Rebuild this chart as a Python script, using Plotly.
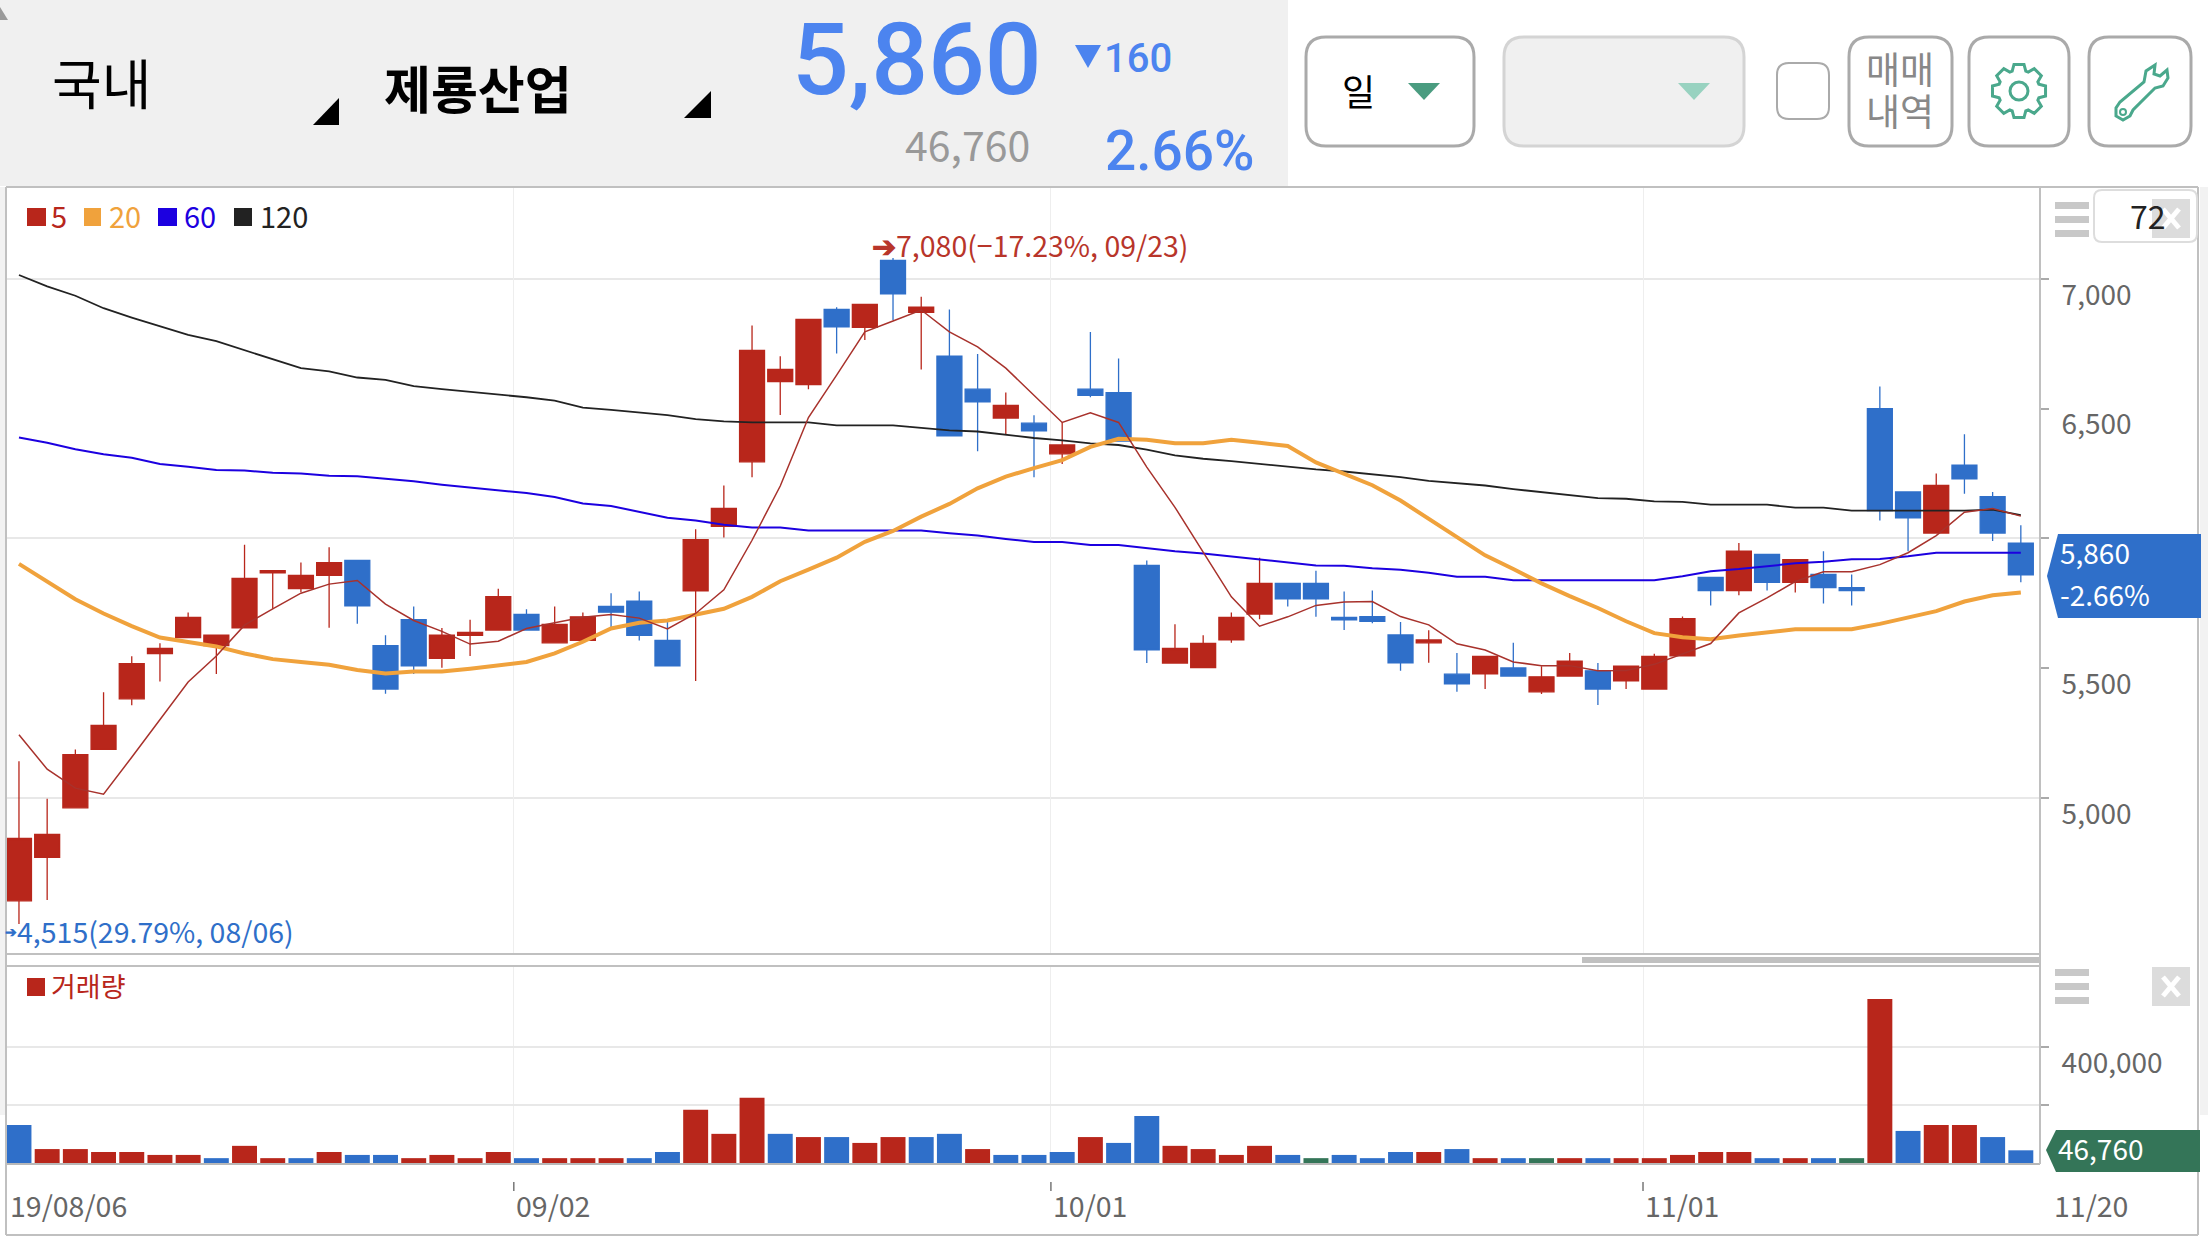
import math
import plotly.graph_objects as go

W = 2208
H = 1242

RED = '#b8261b'
BLUE = '#2f6fc9'
GREEN = '#347558'
GREY_TXT = '#666666'
BORDER = '#c0c0c0'
GRID = '#e8e8e8'
TEAL = '#4aa88c'
KR = 'Noto Sans CJK KR'

# 일봉 데이터
opens = [4604, 4771, 4962, 5187, 5382, 5556, 5618, 5587, 5656, 5867, 5807, 5858,
         5915, 5587, 5687, 5538, 5627, 5647, 5707, 5598, 5607, 5738, 5758, 5607,
         5798, 6047, 6295, 6604, 6593, 6882, 6813, 7071, 6871, 6702, 6575, 6464,
         6444, 6326, 6575, 6562, 5896, 5520, 5502, 5609, 5709, 5827, 5827, 5696,
         5699, 5628, 5598, 5477, 5478, 5501, 5409, 5470, 5490, 5451, 5420, 5548,
         5850, 5799, 5939, 5831, 5861, 5810, 6500, 6179, 6021, 6282, 6161, 5982]
highs = [5142, 4997, 5187, 5407, 5546, 5596, 5715, 5627, 5976, 5876, 5907, 5966,
         5915, 5627, 5738, 5655, 5687, 5806, 5727, 5738, 5715, 5789, 5796, 5687,
         6035, 6204, 6820, 6702, 6844, 6891, 6902, 7080, 6931, 6882, 6711, 6562,
         6475, 6447, 6795, 6693, 5915, 5669, 5627, 5715, 5926, 5827, 5876, 5796,
         5799, 5678, 5646, 5559, 5546, 5598, 5508, 5559, 5520, 5508, 5556, 5699,
         5850, 5982, 5939, 5918, 5951, 5861, 6585, 6179, 6250, 6401, 6179, 6051]
lows = [4515, 4607, 4962, 5187, 5357, 5449, 5618, 5478, 5656, 5729, 5793, 5656,
        5671, 5402, 5478, 5502, 5547, 5647, 5647, 5598, 5607, 5656, 5607, 5509,
        5451, 6004, 6236, 6476, 6575, 6713, 6765, 6842, 6651, 6395, 6336, 6402,
        6236, 6287, 6544, 6375, 5520, 5520, 5502, 5598, 5689, 5738, 5698, 5647,
        5673, 5490, 5521, 5409, 5420, 5470, 5401, 5470, 5358, 5420, 5420, 5548,
        5742, 5781, 5799, 5792, 5749, 5742, 6069, 5951, 6021, 6172, 5990, 5831]
closes = [4844, 4860, 5167, 5280, 5518, 5576, 5696, 5627, 5846, 5876, 5858, 5907,
          5740, 5420, 5509, 5627, 5638, 5776, 5647, 5669, 5698, 5716, 5627, 5509,
          5995, 6116, 6724, 6651, 6844, 6815, 6902, 6942, 6891, 6395, 6526, 6513,
          6415, 6360, 6551, 6375, 5571, 5576, 5596, 5696, 5827, 5767, 5767, 5686,
          5681, 5521, 5609, 5440, 5546, 5470, 5467, 5527, 5420, 5508, 5546, 5691,
          5799, 5951, 5831, 5918, 5811, 5799, 6107, 6079, 6204, 6230, 6021, 5860]

ma5 = [5244, 5111, 5038, 5015, 5157, 5302, 5447, 5547, 5666, 5729, 5789, 5824,
       5838, 5747, 5684, 5642, 5593, 5604, 5653, 5675, 5696, 5707, 5693, 5651,
       5711, 5802, 5993, 6202, 6466, 6629, 6796, 6838, 6880, 6796, 6738, 6656,
       6553, 6447, 6484, 6447, 6275, 6120, 5947, 5775, 5662, 5698, 5742, 5755,
       5757, 5699, 5667, 5594, 5570, 5524, 5510, 5510, 5490, 5491, 5515, 5556,
       5595, 5713, 5771, 5834, 5872, 5872, 5899, 5945, 6011, 6101, 6115, 6086]
ma20 = [5902, 5833, 5766, 5711, 5662, 5618, 5602, 5584, 5557, 5535, 5524, 5513,
        5493, 5480, 5487, 5487, 5498, 5511, 5524, 5557, 5602, 5653, 5675, 5684,
        5706, 5729, 5775, 5835, 5880, 5926, 5987, 6029, 6084, 6133, 6193, 6238,
        6271, 6302, 6353, 6384, 6380, 6367, 6367, 6380, 6369, 6356, 6293, 6250,
        6205, 6146, 6076, 6007, 5935, 5882, 5827, 5778, 5732, 5681, 5635, 5619,
        5612, 5626, 5639, 5650, 5650, 5650, 5671, 5695, 5720, 5757, 5781, 5792]
ma60 = [6389, 6369, 6344, 6324, 6311, 6287, 6276, 6264, 6262, 6253, 6250, 6242,
        6240, 6231, 6220, 6207, 6196, 6186, 6175, 6160, 6135, 6125, 6102, 6080,
        6069, 6053, 6042, 6042, 6031, 6031, 6031, 6031, 6031, 6020, 6011, 5998,
        5986, 5986, 5975, 5975, 5962, 5951, 5942, 5931, 5920, 5907, 5896, 5895,
        5885, 5879, 5868, 5852, 5852, 5839, 5839, 5839, 5839, 5839, 5839, 5854,
        5874, 5882, 5893, 5904, 5910, 5920, 5921, 5931, 5945, 5945, 5945, 5945]
ma120 = [7015, 6971, 6935, 6887, 6851, 6818, 6784, 6760, 6725, 6693, 6656, 6644,
         6620, 6611, 6587, 6575, 6565, 6555, 6544, 6531, 6504, 6495, 6484, 6475,
         6460, 6451, 6447, 6447, 6447, 6436, 6436, 6436, 6426, 6416, 6412, 6400,
         6387, 6378, 6366, 6360, 6342, 6320, 6307, 6298, 6287, 6276, 6266, 6258,
         6248, 6236, 6222, 6212, 6204, 6190, 6178, 6166, 6155, 6153, 6143, 6141,
         6130, 6130, 6130, 6119, 6119, 6107, 6107, 6107, 6107, 6107, 6111, 6090]

volumes = [133000, 51000, 51000, 41000, 41000, 31000, 31000, 20000, 62000, 20000,
           20000, 41000, 31000, 31000, 20000, 31000, 20000, 41000, 20000, 20000,
           20000, 20000, 20000, 41000, 185000, 103000, 226000, 103000, 92000, 92000,
           72000, 92000, 92000, 103000, 51000, 31000, 31000, 41000, 92000, 72000,
           164000, 62000, 51000, 31000, 62000, 31000, 20000, 31000, 20000, 41000,
           41000, 51000, 20000, 20000, 20000, 20000, 20000, 20000, 20000, 31000,
           41000, 41000, 20000, 20000, 20000, 20000, 564000, 113000, 133000, 133000,
           92000, 46760]
vol_dirs = ['b', 'r', 'r', 'r', 'r', 'r', 'r', 'b', 'r', 'r', 'b', 'r',
            'b', 'b', 'r', 'r', 'r', 'r', 'b', 'r', 'r', 'r', 'b', 'b',
            'r', 'r', 'r', 'b', 'r', 'b', 'r', 'r', 'b', 'b', 'r', 'b',
            'b', 'b', 'r', 'b', 'b', 'r', 'r', 'r', 'r', 'b', 'g', 'b',
            'b', 'b', 'r', 'b', 'r', 'b', 'g', 'r', 'b', 'r', 'r', 'r',
            'r', 'r', 'b', 'r', 'b', 'g', 'r', 'b', 'r', 'r', 'b', 'b']

x_idx = list(range(len(closes)))
month_idx = [17.55, 36.6, 57.6]
month_labels = ['09/02', '10/01', '11/01']
price_ticks = [5000, 5500, 6000, 6500, 7000]
price_ticktext = ['5,000', '5,500', '', '6,500', '7,000']
price_grid = [5000, 6000, 7000]
vol_colors = {'r': RED, 'b': BLUE, 'g': GREEN}


def px(x):
    return x / W


def py(y):
    return 1 - y / H


def rect(x0, y0, x1, y1, fill, line=None, lw=0):
    return dict(type='rect', xref='paper', yref='paper', x0=px(x0), x1=px(x1), y0=py(y0), y1=py(y1),
                fillcolor=fill, line=dict(color=line or fill, width=lw))


def hline(x0, x1, y, color=BORDER, lw=2):
    return dict(type='line', xref='paper', yref='paper', x0=px(x0), x1=px(x1), y0=py(y), y1=py(y),
                line=dict(color=color, width=lw))


def vline(x, y0, y1, color=BORDER, lw=2):
    return dict(type='line', xref='paper', yref='paper', x0=px(x), x1=px(x), y0=py(y0), y1=py(y1),
                line=dict(color=color, width=lw))


def poly(points, fill='rgba(0,0,0,0)', line=None, lw=0):
    d = 'M ' + ' L '.join(f'{px(a):.5f} {py(b):.5f}' for a, b in points) + ' Z'
    return dict(type='path', xref='paper', yref='paper', path=d, fillcolor=fill,
                line=dict(color=line or fill, width=lw))


def round_box(x0, y0, x1, y1, r, fill, line, lw=3):
    d = (f'M {px(x0 + r):.5f} {py(y0):.5f} L {px(x1 - r):.5f} {py(y0):.5f} '
         f'Q {px(x1):.5f} {py(y0):.5f} {px(x1):.5f} {py(y0 + r):.5f} '
         f'L {px(x1):.5f} {py(y1 - r):.5f} Q {px(x1):.5f} {py(y1):.5f} {px(x1 - r):.5f} {py(y1):.5f} '
         f'L {px(x0 + r):.5f} {py(y1):.5f} Q {px(x0):.5f} {py(y1):.5f} {px(x0):.5f} {py(y1 - r):.5f} '
         f'L {px(x0):.5f} {py(y0 + r):.5f} Q {px(x0):.5f} {py(y0):.5f} {px(x0 + r):.5f} {py(y0):.5f} Z')
    return dict(type='path', xref='paper', yref='paper', path=d, fillcolor=fill,
                line=dict(color=line, width=lw))


def circle(cx, cy, r, line, lw=3):
    return dict(type='circle', xref='paper', yref='paper', x0=px(cx - r), x1=px(cx + r),
                y0=py(cy + r), y1=py(cy - r), fillcolor='rgba(0,0,0,0)', line=dict(color=line, width=lw))


def label(x, y, text, size, color, anchor='left', family=KR, weight=None):
    font = dict(family=family, size=size, color=color)
    if weight:
        font['weight'] = weight
    return dict(xref='paper', yref='paper', x=px(x), y=py(y), text=text, showarrow=False,
                xanchor=anchor, yanchor='middle', font=font, borderpad=0, borderwidth=0)


def gear_points(cx, cy, r_out, r_in, teeth=8):
    pts = []
    step = 2 * math.pi / teeth
    for i in range(teeth):
        a = i * step - math.pi / 2
        for off, r in [(-0.30, r_in), (-0.17, r_out), (0.17, r_out), (0.30, r_in)]:
            pts.append((cx + r * math.cos(a + off * step * 1.4), cy + r * math.sin(a + off * step * 1.4)))
    return pts


def menu_icon(top):
    return [rect(2055, top, 2089, top + 7, '#c8c8c8'),
            rect(2055, top + 14, 2089, top + 21, '#c8c8c8'),
            rect(2055, top + 28, 2089, top + 35, '#c8c8c8')]


def close_box(top):
    return [rect(2152, top, 2190, top + 39, 'rgba(214,214,214,0.85)'),
            dict(type='line', xref='paper', yref='paper', x0=px(2163), x1=px(2179), y0=py(top + 10), y1=py(top + 29),
                 line=dict(color='white', width=5)),
            dict(type='line', xref='paper', yref='paper', x0=px(2179), x1=px(2163), y0=py(top + 10), y1=py(top + 29),
                 line=dict(color='white', width=5))]


fig = go.Figure()

# 이동평균선은 캔들 아래에 깔린다
for vals, color, lw in [(ma120, '#222222', 1.8), (ma60, '#1c00e0', 2), (ma20, '#f0a23c', 4), (ma5, '#a8322c', 1.5)]:
    fig.add_trace(go.Scatter(x=x_idx, y=vals, mode='lines', line=dict(color=color, width=lw),
                             xaxis='x', yaxis='y', showlegend=False, hoverinfo='skip'))

fig.add_trace(go.Candlestick(
    x=x_idx, open=opens, high=highs, low=lows, close=closes,
    increasing=dict(line=dict(color=RED, width=1.3), fillcolor=RED),
    decreasing=dict(line=dict(color=BLUE, width=1.3), fillcolor=BLUE),
    whiskerwidth=0, xaxis='x', yaxis='y', showlegend=False,
))

fig.add_trace(go.Bar(
    x=x_idx, y=volumes, marker=dict(color=[vol_colors[d] for d in vol_dirs], line=dict(width=0)),
    xaxis='x2', yaxis='y2', showlegend=False,
))

shapes = [
    # 상단 헤더
    rect(0, 0, 1288, 186, '#f0f0f0'),
    poly([(0, 7), (8, 20), (0, 20)], fill='#9a9a9a'),
    poly([(339, 98), (339, 125), (313, 125)], fill='black'),
    poly([(711, 91), (711, 118), (684, 118)], fill='black'),
    poly([(1075, 45), (1101, 45), (1088, 68)], fill='#4c84ef'),
    round_box(1306, 37, 1474, 146, 20, 'white', '#aaaaaa'),
    poly([(1408, 83), (1440, 83), (1424, 100)], fill='#4a9c80'),
    round_box(1504, 37, 1744, 146, 20, '#f0f0f0', '#d4d4d4'),
    poly([(1678, 83), (1710, 83), (1694, 100)], fill='#98d2c0'),
    round_box(1777, 63, 1829, 119, 12, 'white', '#aaaaaa', lw=2),
    round_box(1849, 37, 1952, 146, 20, 'white', '#aaaaaa'),
    round_box(1969, 37, 2069, 146, 20, 'white', '#aaaaaa'),
    round_box(2089, 37, 2191, 146, 20, 'white', '#aaaaaa'),
    poly(gear_points(2019, 91, 27, 21), line=TEAL, lw=3),
    circle(2019, 91, 9, TEAL),
    poly([(2155, 65), (2146, 71), (2144, 82), (2120, 102), (2116, 108), (2116, 116), (2123, 120), (2130, 116),
          (2133, 110), (2155, 88), (2163, 86), (2168, 78), (2167, 70), (2160, 76), (2154, 74)], line=TEAL, lw=3),
    circle(2123, 112, 3, TEAL, lw=2),
    # 차트 테두리
    rect(0, 187, 5, 1115, '#f2f2f2'),
    rect(2200, 187, 2208, 1115, '#f2f2f2'),
    hline(6, 2198, 187),
    hline(6, 2040, 954),
    hline(6, 2040, 966),
    hline(6, 2198, 1235),
    hline(6, 2040, 1164, color='#b8b8b8'),
    vline(6, 187, 1235),
    vline(2198, 187, 1235),
    vline(2040, 187, 1164),
    rect(1582, 957, 2040, 963, '#c0c0c0'),
    # 범례 사각형
    rect(27, 208, 46, 226, RED),
    rect(84, 208, 101, 226, '#f0a23c'),
    rect(158, 208, 177, 226, '#1c00e0'),
    rect(234, 208, 252, 226, '#222222'),
    rect(27, 978, 45, 996, RED),
    # 오른쪽 도구
    *menu_icon(202),
    *menu_icon(969),
    round_box(2094, 190, 2197, 242, 8, 'white', '#dddddd', lw=2),
    # 현재가 / 거래량 태그
    poly([(2047, 576), (2058, 534), (2201, 534), (2201, 618), (2058, 618)], fill=BLUE),
    poly([(2046, 1150), (2056, 1130), (2200, 1130), (2200, 1172), (2056, 1172)], fill=GREEN),
]
# 월 구분 눈금
for m in month_idx:
    shapes.append(dict(type='line', xref='x2', yref='paper', x0=m, x1=m, y0=py(1182), y1=py(1191),
                       line=dict(color='#777777', width=1.5)))

annotations = [
    label(52, 82, '국내', 54, 'black'),
    label(384, 87, '제룡산업', 51, 'black', weight=700),
    label(792, 60, '5,860', 100, '#4c84ef', family='Roboto', weight=500),
    label(1104, 59, '160', 40, '#4c84ef', family='Roboto', weight=500),
    label(905, 143, '46,760', 41, '#999999'),
    label(1105, 151, '2.66%', 55, '#4c84ef', family='Roboto', weight=500),
    label(1358, 90, '일', 36, 'black', anchor='center'),
    label(1900, 68, '매매', 37, '#888888', anchor='center'),
    label(1900, 110, '내역', 37, '#888888', anchor='center'),
    label(2166, 215, '72', 32, '#222222', anchor='right'),
    label(51, 215, '5', 29, RED),
    label(109, 215, '20', 29, '#f0a23c'),
    label(184, 215, '60', 29, '#1c00e0'),
    label(260, 215, '120', 29, '#222222'),
    label(51, 985, '거래량', 27, RED),
    label(872, 245, '<b>➔</b>7,080(−17.23%, 09/23)', 28.5, '#b8352a'),
    label(5, 931, '<b>➔</b>', 14, BLUE),
    label(17, 930, '4,515(29.79%, 08/06)', 28.5, BLUE),
    label(2060, 552, '5,860', 28, 'white'),
    label(2060, 594, '-2.66%', 28, 'white'),
    label(2058, 1148, '46,760', 28, 'white'),
    label(10, 1204, '19/08/06', 28.5, GREY_TXT),
    label(2054, 1204, '11/20', 28.5, GREY_TXT),
]
for m, t in zip(month_idx, month_labels):
    annotations.append(dict(xref='x2', yref='paper', x=m, y=py(1204), text=t, showarrow=False, xanchor='left',
                            yanchor='middle', font=dict(family=KR, size=28.5, color=GREY_TXT)))

x_range = [-0.46, 71.68]
x_domain = [px(6), px(2040)]

fig.update_layout(
    width=W,
    height=H,
    margin=dict(l=0, r=0, t=0, b=0),
    paper_bgcolor='white',
    plot_bgcolor='white',
    showlegend=False,
    boxgap=0.115,
    boxgroupgap=0,
    bargap=0.115,
    xaxis=dict(domain=x_domain, range=x_range, anchor='y', rangeslider=dict(visible=False), tickmode='array',
               tickvals=month_idx, showticklabels=False, ticks='', showgrid=True, gridcolor='#eeeeee', gridwidth=1,
               zeroline=False),
    xaxis2=dict(domain=x_domain, range=x_range, anchor='y2', tickmode='array', tickvals=month_idx,
                showticklabels=False, ticks='', showgrid=True, gridcolor='#eeeeee', gridwidth=1, zeroline=False),
    yaxis=dict(domain=[py(954), py(187)], range=[4399, 7354], anchor='x', side='right', tickmode='array',
               tickvals=price_ticks, ticktext=price_ticktext, ticks='outside', ticklen=8, tickcolor='#aaaaaa',
               tickwidth=1.5, showgrid=False, zeroline=False, ticklabelstandoff=7, ticklabelshift=16,
               tickfont=dict(family=KR, size=28, color=GREY_TXT),
               minor=dict(tickmode='array', tickvals=price_grid, showgrid=True, gridcolor=GRID, gridwidth=2,
                          ticks='')),
    yaxis2=dict(domain=[py(1164), py(967)], range=[0, 673000], anchor='x2', side='right', tickmode='array',
                tickvals=[200000, 400000], ticktext=['', '400,000'], ticks='outside', ticklen=8,
                tickcolor='#aaaaaa', tickwidth=1.5, showgrid=True, gridcolor=GRID, gridwidth=2, zeroline=False,
                ticklabelstandoff=7, ticklabelshift=16, tickfont=dict(family=KR, size=28, color=GREY_TXT)),
    shapes=shapes + close_box(199) + close_box(967),
    annotations=annotations,
)

# 브라우저 기본 body 여백 제거
fig.write_html("out.html", config=dict(displayModeBar=False), post_script="document.body.style.margin='0';")
